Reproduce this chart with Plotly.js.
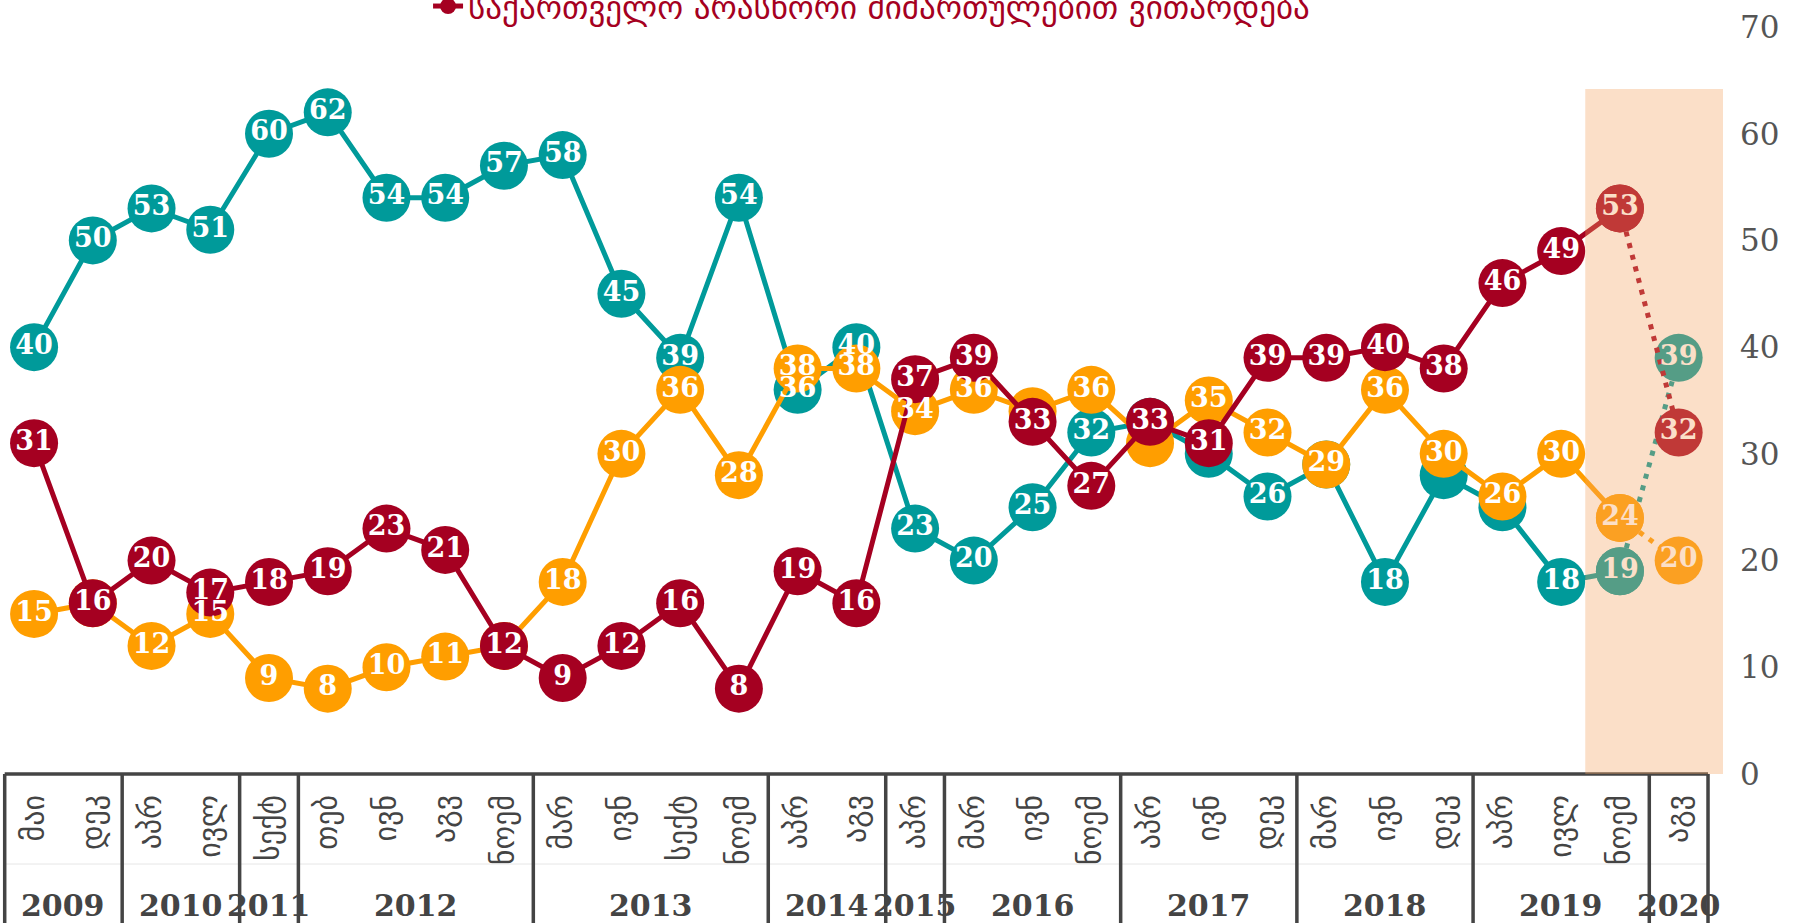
<!DOCTYPE html>
<html>
<head>
<meta charset="utf-8">
<script src="https://cdn.plot.ly/plotly-3.0.1.min.js"></script>
<style>html,body{margin:0;padding:0;background:#fff;}#chart{width:1806px;height:923px;}</style>
</head>
<body>
<div id="chart"></div>
<script>
// ---- data ----
const months = ['მაი','დეკ','აპრ','ივლ','სექტ','თებ','ივნ','აგვ','ნოემ','მარ','ივნ','სექტ','ნოემ','აპრ','აგვ','აპრ','მარ','ივნ','ნოემ','აპრ','ივნ','დეკ','მარ','ივნ','დეკ','აპრ','ივლ','ნოემ','აგვ'];
const years = [2009,2009,2010,2010,2011,2012,2012,2012,2012,2013,2013,2013,2013,2014,2014,2015,2016,2016,2016,2017,2017,2017,2018,2018,2018,2019,2019,2019,2020];
const rightDir = [40,50,53,51,60,62,54,54,57,58,45,39,54,36,40,23,20,25,32,33,30,26,29,18,28,25,18,19,39];
const notChanging = [15,16,12,15,9,8,10,11,12,18,30,36,28,38,38,34,36,34,36,31,35,32,29,36,30,26,30,24,20];
const wrongDir = [31,16,20,17,18,19,23,21,12,9,12,16,8,19,16,37,39,33,27,33,31,39,39,40,38,46,49,53,32];
const seriesNames = ['საქართველო სწორი მიმართულებით ვითარდება','საქართველო არ იცვლება','საქართველო არასწორი მიმართულებით ვითარდება'];
// labels hidden behind other points (by index)
const hiddenRight = [19,20,22,24,25];
const hiddenNotChanging = [1,8,17,19];
const hiddenWrong = [];
const lastSurveyStart = 27; // index where dotted segment starts

const colors = ['#009a9a','#ff9e00','#a50021'];
const idx = months.map((_, i) => i);

const seriesList = [rightDir, notChanging, wrongDir];
const hiddenList = [hiddenRight, hiddenNotChanging, hiddenWrong];

const traces = [];
seriesList.forEach((vals, s) => {
  traces.push({
    x: idx.slice(0, lastSurveyStart + 1), y: vals.slice(0, lastSurveyStart + 1), type: 'scatter', mode: 'lines+markers',
    name: seriesNames[s], showlegend: s === 2,
    line: {color: colors[s], width: 5},
    marker: {color: colors[s], size: 48},
    cliponaxis: false, hoverinfo: 'skip'
  });
  traces.push({
    x: idx.slice(lastSurveyStart), y: vals.slice(lastSurveyStart), type: 'scatter', mode: 'lines+markers',
    name: seriesNames[s], showlegend: false,
    line: {color: colors[s], width: 5, dash: '5px,7px'},
    marker: {color: colors[s], size: 48},
    cliponaxis: false, hoverinfo: 'skip'
  });
});
seriesList.forEach((vals, s) => {
  traces.push({
    x: idx, y: vals, type: 'scatter', mode: 'text',
    text: vals.map((v, i) => hiddenList[s].includes(i) ? '' : String(v)),
    textposition: 'middle center',
    textfont: {family: 'DejaVu Serif', size: 27, weight: 'bold', color: '#ffffff'},
    showlegend: false, cliponaxis: false, hoverinfo: 'skip'
  });
});

// year groups
const groups = [];
years.forEach((y, i) => {
  if (!groups.length || groups[groups.length - 1].year !== y) groups.push({year: y, start: i, end: i});
  else groups[groups.length - 1].end = i;
});

const shapes = [];
shapes.push({type: 'line', xref: 'x', yref: 'paper', x0: -0.5, x1: idx.length - 0.5, y0: 0, y1: 0, line: {color: '#444', width: 3.5}});
shapes.push({type: 'line', xref: 'x', yref: 'paper', x0: -0.5, x1: idx.length - 0.5, y0: -0.1205, y1: -0.1205, line: {color: '#e6e6e6', width: 1}});
const bounds = groups.map(g => g.start - 0.5).concat([idx.length - 0.5]);
bounds.forEach(b => shapes.push({type: 'line', xref: 'x', yref: 'paper', x0: b, x1: b, y0: 0, y1: -0.25, line: {color: '#444', width: 3.5}}));
shapes.push({type: 'rect', xref: 'x', yref: 'y', x0: 26.41, x1: 28.755, y0: 0, y1: 64.2, fillcolor: '#f4a460', opacity: 0.35, line: {width: 0}, layer: 'above'});

const annotations = groups.map(g => ({
  x: (g.start + g.end) / 2, xref: 'x', y: -0.1754, yref: 'paper', yanchor: 'middle', xanchor: 'center',
  text: String(g.year), showarrow: false,
  font: {family: 'DejaVu Serif', size: 30, weight: 'bold', color: '#444'}
}));

const layout = {
  width: 1806, height: 923,
  margin: {l: 1, r: 83, t: 27, b: 149, autoexpand: false},
  paper_bgcolor: '#ffffff', plot_bgcolor: '#ffffff',
  showlegend: true,
  legend: {x: 0.248, xanchor: 'left', y: 1.028, yanchor: 'middle', bgcolor: 'rgba(0,0,0,0)',
           font: {family: 'DejaVu Sans', size: 33, color: '#a50021'}},
  xaxis: {range: [-0.563, 28.755], tickmode: 'array', tickvals: idx, ticktext: months, tickangle: -90,
          tickfont: {family: 'DejaVu Sans', size: 30, color: '#444'}, showgrid: false, zeroline: false,
          showline: false, ticks: '', ticklabelstandoff: 14, fixedrange: true},
  yaxis: {side: 'right', range: [0, 70], tickmode: 'linear', tick0: 0, dtick: 10, showgrid: false, zeroline: false,
          showline: false, ticks: '', ticklabelstandoff: 16,
          tickfont: {family: 'DejaVu Serif', size: 31, color: '#555'}, fixedrange: true},
  shapes: shapes,
  annotations: annotations
};

Plotly.newPlot('chart', traces, layout, {displayModeBar: false, staticPlot: true});
</script>
</body>
</html>
